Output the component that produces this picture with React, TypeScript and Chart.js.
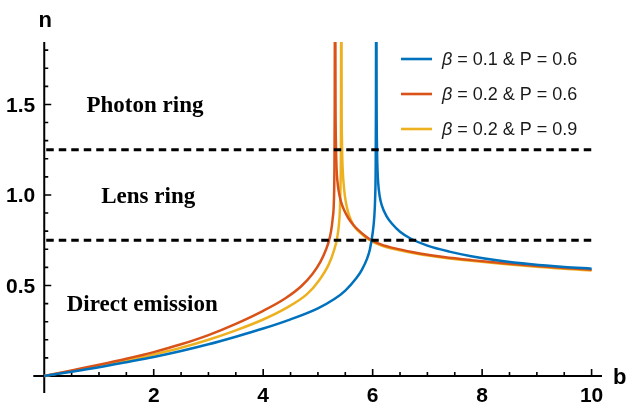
import { useEffect, useRef } from 'react';
import { Chart, registerables } from 'chart.js';

Chart.register(...registerables);

// ---------- data ----------
const blueLeftB = [0, 0.5, 1, 1.5, 2, 2.5, 3, 3.5, 4, 4.5, 5, 5.3, 5.5, 5.7, 5.8, 5.9, 5.95, 6.0, 6.03, 6.045, 6.055, 6.06, 6.063];
const blueLeftN = [0, 0.023, 0.048, 0.076, 0.105, 0.138, 0.175, 0.217, 0.262, 0.313, 0.374, 0.425, 0.472, 0.54, 0.585, 0.65, 0.7, 0.79, 0.88, 0.98, 1.15, 1.5, 2.2];
const blueRightB = [6.066, 6.072, 6.08, 6.09, 6.1, 6.13, 6.17, 6.25, 6.35, 6.5, 6.7, 7.0, 7.4, 7.8, 8.3, 8.9, 9.5, 10];
const blueRightN = [2.2, 1.5, 1.25, 1.13, 1.07, 0.99, 0.94, 0.885, 0.842, 0.797, 0.758, 0.72, 0.687, 0.662, 0.638, 0.617, 0.602, 0.593];

const redLeftB = [0, 0.5, 1, 1.5, 2, 2.5, 3, 3.5, 4, 4.4, 4.7, 4.9, 5.05, 5.15, 5.2, 5.24, 5.27, 5.29, 5.3, 5.307, 5.31];
const redLeftN = [0, 0.031, 0.062, 0.095, 0.132, 0.175, 0.226, 0.288, 0.36, 0.428, 0.497, 0.563, 0.633, 0.7, 0.745, 0.8, 0.87, 0.95, 1.1, 1.5, 2.2];
const redRightB = [5.316, 5.322, 5.33, 5.34, 5.355, 5.38, 5.42, 5.48, 5.56, 5.66, 5.78, 5.94, 6.15, 6.45, 6.86, 7.3, 7.8, 8.4, 9.0, 9.5, 10];
const redRightN = [2.2, 1.5, 1.27, 1.15, 1.08, 1.02, 0.965, 0.915, 0.87, 0.83, 0.795, 0.757, 0.727, 0.702, 0.677, 0.657, 0.64, 0.623, 0.608, 0.597, 0.587];

const yellowLeftB = [0, 0.5, 1, 1.5, 2, 2.5, 3, 3.5, 4, 4.4, 4.8, 5.03, 5.2, 5.3, 5.35, 5.38, 5.4, 5.412, 5.42, 5.425];
const yellowLeftN = [0, 0.028, 0.056, 0.086, 0.119, 0.156, 0.2, 0.252, 0.312, 0.372, 0.452, 0.532, 0.618, 0.7, 0.76, 0.825, 0.91, 1.04, 1.3, 2.2];
const yellowRightB = [5.427, 5.433, 5.44, 5.45, 5.465, 5.49, 5.53, 5.58, 5.66, 5.78, 5.94, 6.15, 6.45, 6.86, 7.3, 7.8, 8.4, 9.0, 9.5, 10];
const yellowRightN = [2.2, 1.5, 1.28, 1.16, 1.08, 1.0, 0.93, 0.878, 0.828, 0.789, 0.752, 0.722, 0.697, 0.672, 0.653, 0.636, 0.619, 0.604, 0.592, 0.583];

const seriesLabels = ['β = 0.1 & P = 0.6', 'β = 0.2 & P = 0.6', 'β = 0.2 & P = 0.9'];
const seriesColors = ['#0072BD', '#D95319', '#EDB120'];

const xTickValues = [2, 4, 6, 8, 10];
const xTickLabels = ['2', '4', '6', '8', '10'];
const xMinorTicks = [0.5, 1, 1.5, 2.5, 3, 3.5, 4.5, 5, 5.5, 6.5, 7, 7.5, 8.5, 9, 9.5];
const yTickValues = [0.5, 1.0, 1.5];
const yTickLabels = ['0.5', '1.0', '1.5'];
const yMinorTicks = [0.1, 0.2, 0.3, 0.4, 0.6, 0.7, 0.8, 0.9, 1.1, 1.2, 1.3, 1.4, 1.6, 1.7, 1.8];

const dashedLevels = [0.75, 1.25];
const regionLabels = ['Photon ring', 'Lens ring', 'Direct emission'];
const regionX = [1.84, 1.9, 1.79];
const regionY = [1.5, 1.0, 0.403];

const zip = (bs: number[], ns: number[]) => bs.map((b, i) => ({ x: b, y: ns[i] }));

const mathAxes = {
  id: 'mathAxes',
  beforeDatasetsDraw(chart: any) {
    const { ctx, chartArea, scales } = chart;
    const xs = scales.x;
    const ys = scales.y;
    const x0 = xs.getPixelForValue(0);
    const y0 = ys.getPixelForValue(0);
    ctx.save();
    ctx.strokeStyle = '#000';
    ctx.lineWidth = 2;
    ctx.beginPath();
    ctx.moveTo(chartArea.left, y0);
    ctx.lineTo(chartArea.right, y0);
    ctx.moveTo(x0, chartArea.top);
    ctx.lineTo(x0, chartArea.bottom);
    ctx.stroke();

    ctx.lineWidth = 1.6;
    ctx.beginPath();
    xTickValues.forEach((v) => {
      const px = xs.getPixelForValue(v);
      ctx.moveTo(px, y0);
      ctx.lineTo(px, y0 - 7);
    });
    xMinorTicks.forEach((v) => {
      const px = xs.getPixelForValue(v);
      ctx.moveTo(px, y0);
      ctx.lineTo(px, y0 - 4);
    });
    yTickValues.forEach((v) => {
      const py = ys.getPixelForValue(v);
      ctx.moveTo(x0, py);
      ctx.lineTo(x0 + 7, py);
    });
    yMinorTicks.forEach((v) => {
      const py = ys.getPixelForValue(v);
      ctx.moveTo(x0, py);
      ctx.lineTo(x0 + 4, py);
    });
    ctx.stroke();

    ctx.fillStyle = '#000';
    ctx.font = 'bold 21px "Liberation Sans", Arial, sans-serif';
    ctx.textAlign = 'center';
    ctx.textBaseline = 'alphabetic';
    xTickValues.forEach((v, i) => {
      ctx.fillText(xTickLabels[i], xs.getPixelForValue(v), y0 + 26);
    });
    ctx.textAlign = 'right';
    yTickValues.forEach((v, i) => {
      ctx.fillText(yTickLabels[i], x0 - 9, ys.getPixelForValue(v) + 7.5);
    });
    ctx.font = 'bold 22px "Liberation Sans", Arial, sans-serif';
    ctx.textAlign = 'center';
    ctx.fillText('n', x0 + 1, 27);
    ctx.textAlign = 'left';
    ctx.fillText('b', 613, y0 + 8);
    ctx.restore();
  },
  afterDatasetsDraw(chart: any) {
    const { ctx, scales } = chart;
    const xs = scales.x;
    const ys = scales.y;
    ctx.save();
    ctx.strokeStyle = '#000';
    ctx.lineWidth = 3;
    ctx.setLineDash([7.5, 5]);
    dashedLevels.forEach((lv) => {
      const py = ys.getPixelForValue(lv);
      ctx.beginPath();
      ctx.moveTo(xs.getPixelForValue(0) + 2, py);
      ctx.lineTo(xs.getPixelForValue(10), py);
      ctx.stroke();
    });
    ctx.setLineDash([]);

    ctx.fillStyle = '#000';
    ctx.font = 'bold 23px "Liberation Serif", "Times New Roman", serif';
    ctx.textAlign = 'center';
    ctx.textBaseline = 'alphabetic';
    regionLabels.forEach((t, i) => {
      ctx.fillText(t, xs.getPixelForValue(regionX[i]), ys.getPixelForValue(regionY[i]) + 7.6);
    });

    // legend
    const lx0 = 401;
    const lx1 = 432;
    const tx = 442;
    seriesLabels.forEach((label, i) => {
      const ly = 59 + i * 35;
      ctx.strokeStyle = seriesColors[i];
      ctx.lineWidth = 2.6;
      ctx.beginPath();
      ctx.moveTo(lx0, ly);
      ctx.lineTo(lx1, ly);
      ctx.stroke();
      ctx.fillStyle = '#1a1a1a';
      ctx.textAlign = 'left';
      const first = label.charAt(0);
      const rest = label.slice(1);
      ctx.font = 'italic 18px "Liberation Sans", Arial, sans-serif';
      ctx.fillText(first, tx, ly + 6.4);
      const w = ctx.measureText(first).width;
      ctx.font = '18px "Liberation Sans", Arial, sans-serif';
      ctx.fillText(rest, tx + w, ly + 6.4);
    });
    ctx.restore();
  },
};

export default function App() {
  const ref = useRef<HTMLCanvasElement | null>(null);
  useEffect(() => {
    if (!ref.current) return;
    const branches = [
      { d: zip(blueLeftB, blueLeftN), c: 0 },
      { d: zip(blueRightB, blueRightN), c: 0 },
      { d: zip(redLeftB, redLeftN), c: 1 },
      { d: zip(redRightB, redRightN), c: 1 },
      { d: zip(yellowLeftB, yellowLeftN), c: 2 },
      { d: zip(yellowRightB, yellowRightN), c: 2 },
    ];
    const chart = new Chart(ref.current, {
      type: 'line',
      data: {
        datasets: branches.map((br) => ({
          label: seriesLabels[br.c],
          data: br.d,
          borderColor: seriesColors[br.c],
          backgroundColor: seriesColors[br.c],
          borderWidth: 2.5,
          pointRadius: 0,
          fill: false,
          cubicInterpolationMode: 'monotone' as const,
        })),
      },
      options: {
        responsive: false,
        animation: false,
        layout: { padding: { left: 33.3, right: 27, top: 42, bottom: 11 } },
        scales: {
          x: { type: 'linear', min: -0.2, max: 10.19, display: false },
          y: { type: 'linear', min: -0.094, max: 1.845, display: false },
        },
        plugins: {
          legend: { display: false },
          tooltip: { enabled: false },
        },
      },
      plugins: [mathAxes],
    });
    return () => chart.destroy();
  }, []);
  return (
    <div style={{ position: 'fixed', left: 0, top: 0, width: 629, height: 404, background: '#fff' }}>
      <canvas ref={ref} width={629} height={404} style={{ width: 629, height: 404, display: 'block' }} />
    </div>
  );
}
